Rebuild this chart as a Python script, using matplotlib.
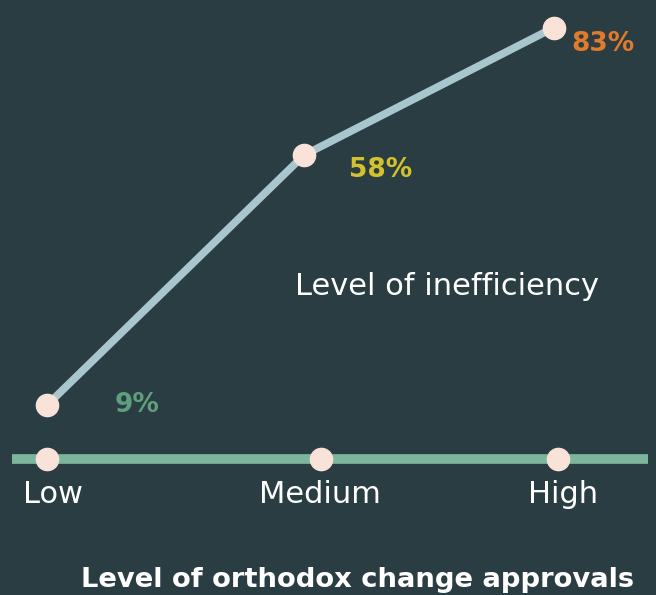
import matplotlib
matplotlib.use("Agg")
import matplotlib.pyplot as plt

categories = ["Low", "Medium", "High"]
values = [9, 58, 83]
value_labels = ["9%", "58%", "83%"]
label_colors = ["#5f9e7e", "#d4c12e", "#e07a2c"]
series_name = "Level of inefficiency"
x_title = "Level of orthodox change approvals"

# layout positions (not data)
line_x = [0, 1, 1.973]
tick_x = [0, 1.066, 1.988]
baseline_y = -1.6

BG = "#2a3d42"
fig = plt.figure(figsize=(6.56, 5.95), dpi=100, facecolor=BG)
ax = fig.add_axes([0, 0, 1, 1])
ax.set_facecolor(BG)
ax.set_xlim(-0.183, 2.370)
ax.set_ylim(-28.2, 88.4)
ax.axis("off")

font = "DejaVu Sans"

# baseline
ax.plot([-0.137, 2.339], [baseline_y, baseline_y], color="#7db59c", lw=7, solid_capstyle="butt", zorder=1)
ax.plot(tick_x, [baseline_y] * 3, "o", ms=16, mfc="#f9e2d7", mec="#f9e2d7", zorder=3)

# line
ax.plot(line_x, values, color="#a9c5cd", lw=5.5, solid_capstyle="round", zorder=2)
ax.plot(line_x, values, "o", ms=16, mfc="#f9e2d7", mec="#f9e2d7", zorder=3)

offsets = [(0.35, 0.0), (0.3, -3.0), (0.19, -3.3)]
for xv, v, lab, c, (dx, dy) in zip(line_x, values, value_labels, label_colors, offsets):
    ax.text(xv + dx, v + dy, lab, color=c, fontsize=19, fontweight="bold",
            ha="center", va="center", family=font)

label_dx = [0.025, -0.003, 0.02]
for tx, cat, d in zip(tick_x, categories, label_dx):
    ax.text(tx + d, baseline_y - 7, cat, color="white", fontsize=22,
            ha="center", va="center", family=font)

ax.text(1.556, 32.3, series_name, color="white", fontsize=22,
        ha="center", va="center", family=font)

ax.text(1.210, -25.3, x_title, color="white", fontsize=19.7, fontweight="bold",
        ha="center", va="center", family=font)

fig.savefig("out.png", dpi=100, facecolor=BG)
